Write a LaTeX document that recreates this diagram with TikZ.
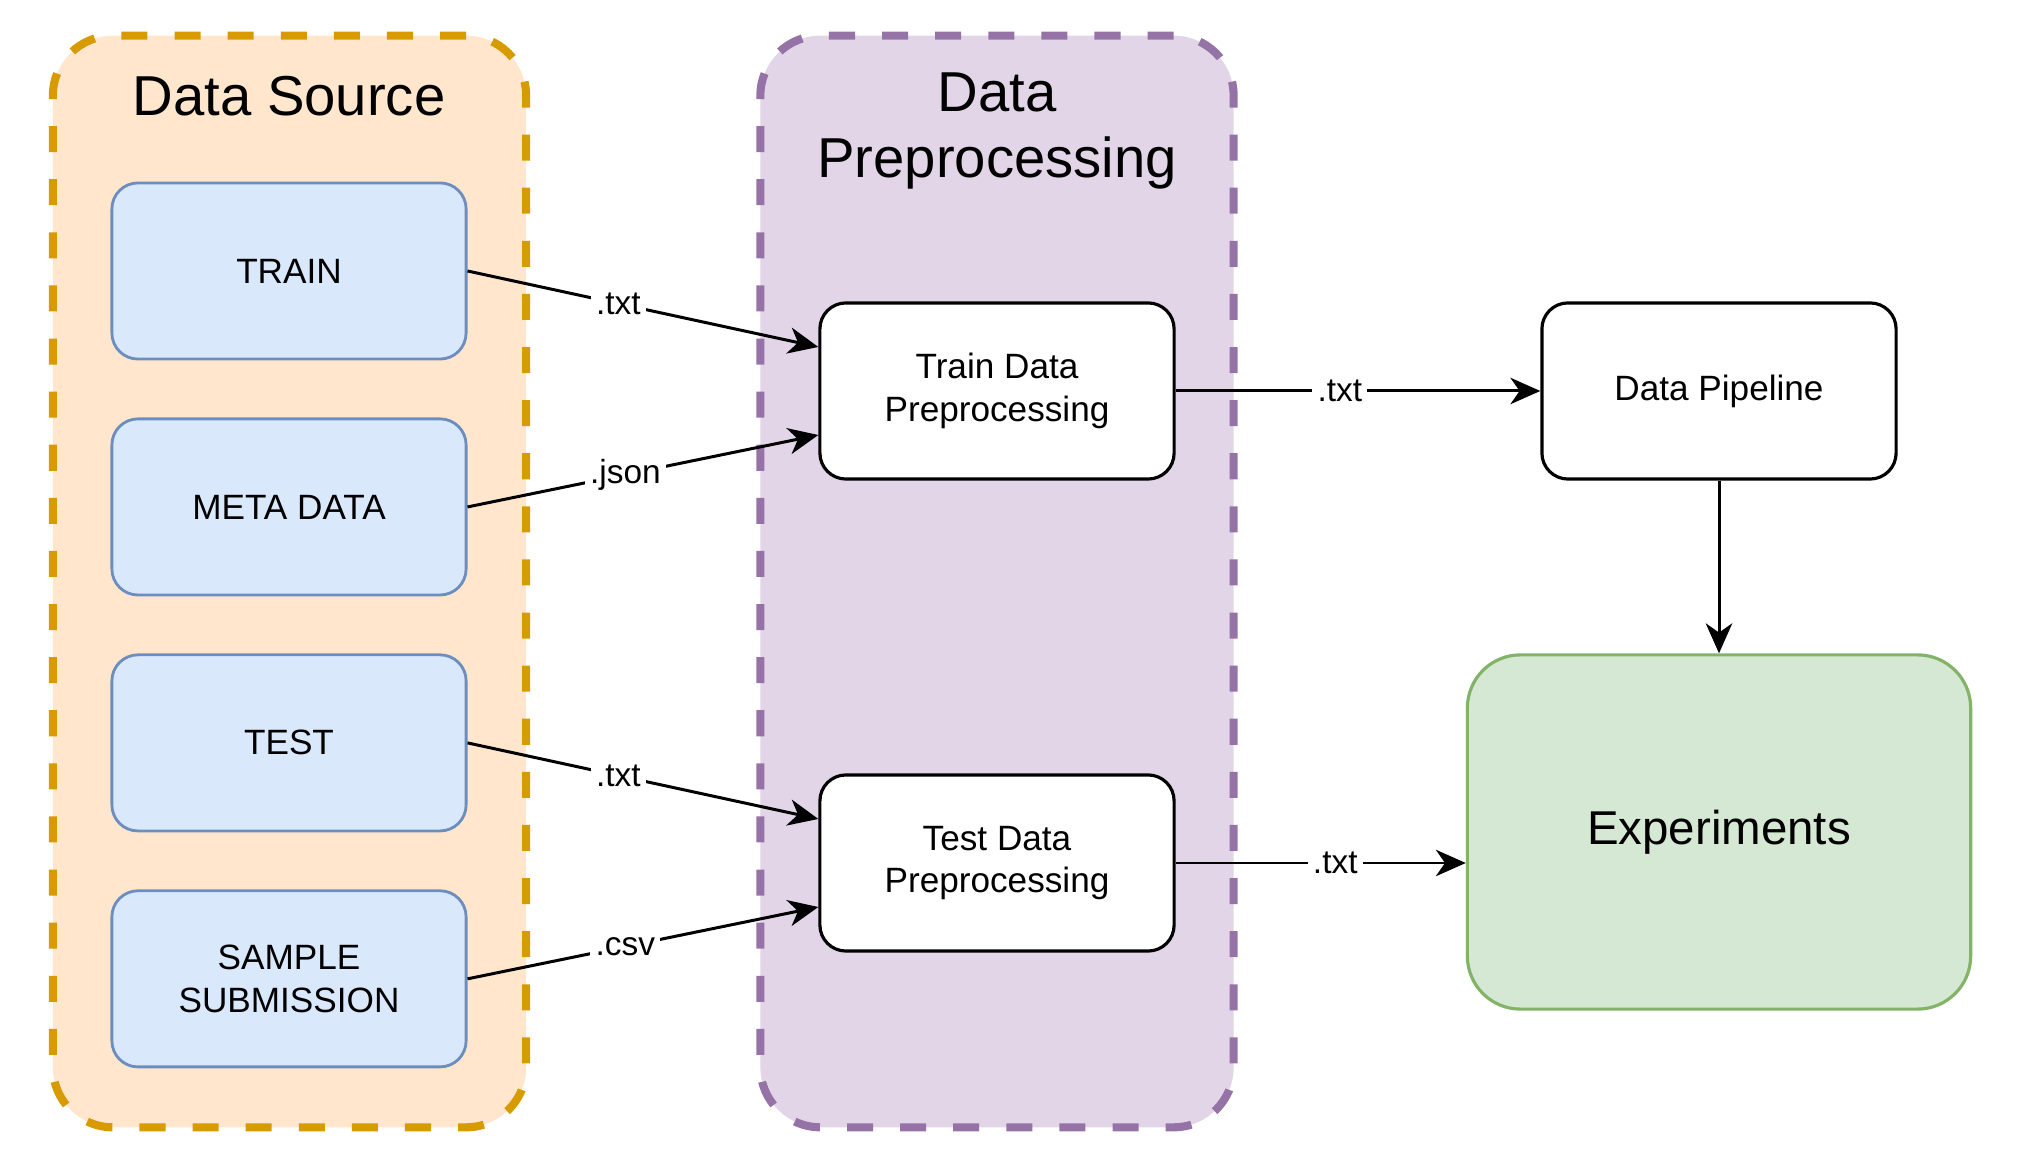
\documentclass[tikz,border=0pt]{standalone}
\usepackage{fontspec}
\setmainfont{Liberation Sans}
\usetikzlibrary{arrows.meta,positioning}
\definecolor{srcfill}{HTML}{FFE6CC}
\definecolor{srcline}{HTML}{D79B00}
\definecolor{prefill}{HTML}{E1D5E7}
\definecolor{preline}{HTML}{9673A6}
\definecolor{boxfill}{HTML}{DAE8FC}
\definecolor{boxline}{HTML}{6C8EBF}
\definecolor{expfill}{HTML}{D5E8D4}
\definecolor{expline}{HTML}{82B366}
\tikzset{
  group/.style={draw, line width=2.3pt, dash pattern=on 7.4pt off 7.7pt, rounded corners=0.6cm,
    minimum width=4.73cm, minimum height=10.91cm, inner sep=0pt},
  srcbox/.style={draw=boxline, fill=boxfill, line width=0.8pt, rounded corners=0.26cm,
    minimum width=3.54cm, minimum height=1.76cm, align=center, font=\fontsize{10}{12}\selectfont},
  procbox/.style={srcbox, draw=black, fill=white, line width=0.9pt},
  link/.style={-{Stealth[length=8.5pt,width=7.5pt,inset=2.6pt]}, line width=0.85pt},
  ext/.style={fill=white, inner sep=1.5pt, font=\fontsize{9.5}{11}\selectfont}
}
\begin{document}
\begin{tikzpicture}[x=0.01cm,y=-0.01cm,node distance=0.57cm]
\useasboundingbox (0,0) rectangle (2040,1174);
\node[group, draw=srcline, fill=srcfill] (source) at (289.5,581.5) {};
\node[group, draw=preline, fill=prefill] (prep) at (997,581.5) {};
\node[font=\fontsize{16}{18}\selectfont] (sourcetitle) at (289,96) {Data Source};
\node[font=\fontsize{16}{18.5}\selectfont, align=center] (preptitle) at (997,131) {Data\\Preprocessing};

\node[srcbox] (train) at (289,271) {TRAIN};
\node[srcbox, below=of train] (meta) {META DATA};
\node[srcbox, below=of meta] (test) {TEST};
\node[srcbox, below=of test] (sample) {SAMPLE\\SUBMISSION};

\node[procbox] (trainprep) at (997,391) {Train Data\\Preprocessing};
\node[procbox] (testprep) at (997,863) {Test Data\\Preprocessing};
\node[procbox] (pipeline) at (1719,391) {Data Pipeline};
\node[draw=expline, fill=expfill, line width=0.9pt, rounded corners=0.53cm, minimum width=5.03cm,
  minimum height=3.54cm, font=\fontsize{13.5}{16}\selectfont] (experiments) at (1719,832) {Experiments};

\draw[link] (train.east) -- node[ext, pos=0.43] {.txt} ([yshift=0.44cm]trainprep.west);
\draw[link] (meta.east) -- node[ext, pos=0.45] {.json} ([yshift=-0.44cm]trainprep.west);
\draw[link] (test.east) -- node[ext, pos=0.43] {.txt} ([yshift=0.44cm]testprep.west);
\draw[link] (sample.east) -- node[ext, pos=0.45] {.csv} ([yshift=-0.44cm]testprep.west);
\draw[link] (trainprep.east) -- node[ext, pos=0.45] {.txt} (pipeline.west);
\draw[link] (testprep.east) -- node[ext, pos=0.55] {.txt} (testprep.east -| experiments.west);
\draw[link] (pipeline.south) -- (experiments.north);
\end{tikzpicture}
\end{document}
